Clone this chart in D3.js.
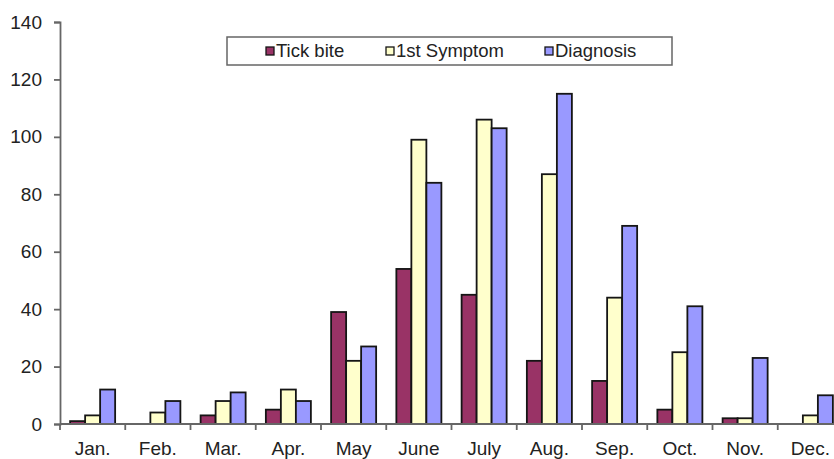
<!DOCTYPE html>
<html>
<head>
<meta charset="utf-8">
<script src="https://cdn.jsdelivr.net/npm/d3@7"></script>
<style>
  body { margin: 0; background: #fff; }
  svg { font-family: "Liberation Sans", Arial, sans-serif; }
</style>
</head>
<body>
<div id="chart"></div>
<script>
var months = ["Jan.", "Feb.", "Mar.", "Apr.", "May", "June", "July", "Aug.", "Sep.", "Oct.", "Nov.", "Dec."];
var seriesNames = ["Tick bite", "1st Symptom", "Diagnosis"];
var tickBite = [1, 0, 3, 5, 39, 54, 45, 22, 15, 5, 2, 0];
var firstSymptom = [3, 4, 8, 12, 22, 99, 106, 87, 44, 25, 2, 3];
var diagnosis = [12, 8, 11, 8, 27, 84, 103, 115, 69, 41, 23, 10];
var yTicks = [0, 20, 40, 60, 80, 100, 120, 140];
var colors = ["#993366", "#ffffcc", "#9999ff"];

var width = 834, height = 459;
var margin = {top: 22, left: 60, bottom: 35};
var plotBottom = height - margin.bottom;

var svg = d3.select("#chart").append("svg")
    .attr("width", width)
    .attr("height", height);

var x = d3.scaleBand()
    .domain(months)
    .range([margin.left, margin.left + 65.25 * months.length])
    .padding(0);

var y = d3.scaleLinear()
    .domain([0, 140])
    .range([plotBottom, margin.top]);

var groupW = x.bandwidth() * 0.69;
var x1 = d3.scaleBand()
    .domain(seriesNames)
    .range([0, groupW]);

var series = [tickBite, firstSymptom, diagnosis];
var rows = months.map(function(m, i) {
    return seriesNames.map(function(s, j) {
        return {month: m, name: s, value: series[j][i], color: colors[j]};
    });
});

// bars
var groups = svg.selectAll(".month")
    .data(rows)
    .enter()
    .append("g")
    .attr("transform", function(d, i) {
        return "translate(" + (x(months[i]) + (x.bandwidth() - groupW) / 2) + ",0)";
    });

groups.selectAll("rect")
    .data(function(d) { return d; })
    .enter()
    .append("rect")
    .attr("x", function(d) { return x1(d.name); })
    .attr("y", function(d) { return y(d.value); })
    .attr("width", x1.bandwidth())
    .attr("height", function(d) { return plotBottom - y(d.value); })
    .style("fill", function(d) { return d.color; })
    .style("stroke", "#151515")
    .style("stroke-width", 1.8);

// y axis
var yAxis = svg.append("g")
    .attr("transform", "translate(" + margin.left + ",0)")
    .call(d3.axisLeft(y).tickValues(yTicks).tickSize(6).tickPadding(12));
yAxis.selectAll("text").style("font-size", "19px").style("fill", "#222");
yAxis.selectAll("line, path").style("stroke", "#666").style("stroke-width", 1.8);

// x axis
var xAxis = svg.append("g")
    .attr("transform", "translate(0," + plotBottom + ")")
    .call(d3.axisBottom(x).tickSize(0).tickPadding(18));
xAxis.select(".domain").remove();
xAxis.selectAll("text").style("font-size", "19px").style("fill", "#222");

svg.append("line")
    .attr("x1", margin.left).attr("x2", x.range()[1])
    .attr("y1", plotBottom).attr("y2", plotBottom)
    .style("stroke", "#666").style("stroke-width", 1.8);

svg.selectAll(".xtick")
    .data(months)
    .enter()
    .append("line")
    .attr("x1", function(d) { return x(d); })
    .attr("x2", function(d) { return x(d); })
    .attr("y1", plotBottom)
    .attr("y2", plotBottom + 6)
    .style("stroke", "#666").style("stroke-width", 1.8);

// legend
var legend = svg.append("g");
legend.append("rect")
    .attr("x", 227).attr("y", 37)
    .attr("width", 445).attr("height", 28)
    .style("fill", "#fff").style("stroke", "#666").style("stroke-width", 1.5);

var legendX = [266, 386, 545];
var items = legend.selectAll(".item")
    .data(seriesNames)
    .enter()
    .append("g")
    .attr("transform", function(d, i) { return "translate(" + legendX[i] + ",47)"; });

items.append("rect")
    .attr("width", 8).attr("height", 8)
    .style("fill", function(d, i) { return colors[i]; })
    .style("stroke", "#151515").style("stroke-width", 1.3);

items.append("text")
    .attr("x", 10).attr("y", 10)
    .style("font-size", "18.5px")
    .style("fill", "#222")
    .text(function(d) { return d; });
</script>
</body>
</html>
